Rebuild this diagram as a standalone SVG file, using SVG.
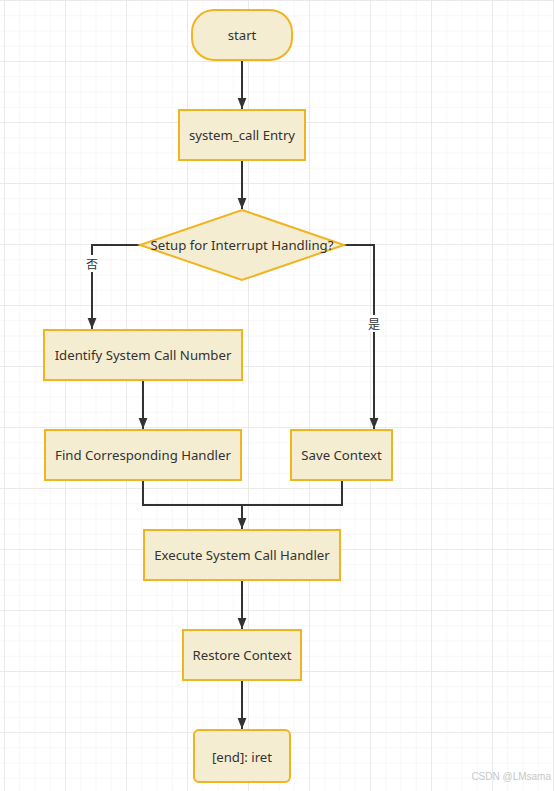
<svg xmlns="http://www.w3.org/2000/svg" width="554" height="791" viewBox="0 0 554 791">
<defs>
<pattern id="minor" x="4" y="0" width="15.25" height="15.25" patternUnits="userSpaceOnUse">
<path d="M0 0V15.25M0 0H15.25" fill="none" stroke="#efefef" stroke-width="1"/>
</pattern>
<pattern id="major" x="4" y="0" width="61" height="61" patternUnits="userSpaceOnUse">
<path d="M0 0V61M0 0H61" fill="none" stroke="#e6e6e6" stroke-width="1.5"/>
</pattern>
<marker id="arrow" viewBox="0 0 10 10" refX="10" refY="5" markerWidth="11" markerHeight="11" markerUnits="userSpaceOnUse" orient="auto">
<path d="M0 1L10 5L0 9z" fill="#333"/>
</marker>
</defs>
<style>
.n{fill:#f5edd1;stroke:#f0b420;stroke-width:2}
.t{font-family:"Noto Sans","Open Sans",sans-serif;font-size:13.2px;fill:#333;text-anchor:middle;dominant-baseline:central}
.e{fill:none;stroke:#333;stroke-width:2;marker-end:url(#arrow)}
.l{fill:none;stroke:#333;stroke-width:2}
.lb{font-family:"Noto Sans CJK SC",sans-serif;font-size:12px;fill:#333;text-anchor:middle;dominant-baseline:central}
</style>
<rect width="554" height="791" fill="#fff"/>
<rect width="554" height="791" fill="url(#minor)"/>
<rect width="554" height="791" fill="url(#major)"/>
<g id="connectors">
<path class="e" d="M242 60V109"/>
<path class="e" d="M242 160V209"/>
<path class="e" d="M140 245H92V329"/>
<path class="e" d="M344 245H374V429"/>
<path class="e" d="M143 380V429"/>
<path class="l" d="M143 480V505H342V480"/>
<path class="e" d="M242 505V529"/>
<path class="e" d="M242 580V629"/>
<path class="e" d="M242 680V729"/>
<rect x="85" y="255" width="14" height="17" fill="#fff"/>
<text class="lb" x="92" y="263">否</text>
<rect x="367" y="315" width="14" height="17" fill="#fff"/>
<text class="lb" x="374" y="323">是</text>
</g>
<g id="start"><rect class="n" x="192" y="10" width="100" height="50" rx="22" ry="22"/><text class="t" x="242" y="35">start</text></g>
<g id="entry"><rect class="n" x="179" y="110" width="126" height="50"/><text class="t" x="242" y="135">system_call Entry</text></g>
<g id="decision"><path class="n" d="M242 210L344 245L242 280L140 245z"/><text class="t" x="242" y="245">Setup for Interrupt Handling?</text></g>
<g id="identify"><rect class="n" x="44" y="330" width="198" height="50"/><text class="t" x="143" y="355">Identify System Call Number</text></g>
<g id="find"><rect class="n" x="45" y="430" width="196" height="50"/><text class="t" x="143" y="455">Find Corresponding Handler</text></g>
<g id="save"><rect class="n" x="291" y="430" width="101" height="50"/><text class="t" x="341.5" y="455">Save Context</text></g>
<g id="execute"><rect class="n" x="144" y="530" width="196" height="50"/><text class="t" x="242" y="555">Execute System Call Handler</text></g>
<g id="restore"><rect class="n" x="183" y="630" width="118" height="50"/><text class="t" x="242" y="655">Restore Context</text></g>
<g id="end"><rect class="n" x="194" y="730" width="96" height="52" rx="5" ry="5"/><text class="t" x="242" y="757">[end]: iret</text></g>
<text x="551" y="780" font-family="Liberation Sans,sans-serif" font-size="10" fill="#c8c8c8" text-anchor="end">CSDN @LMsama</text>
</svg>
